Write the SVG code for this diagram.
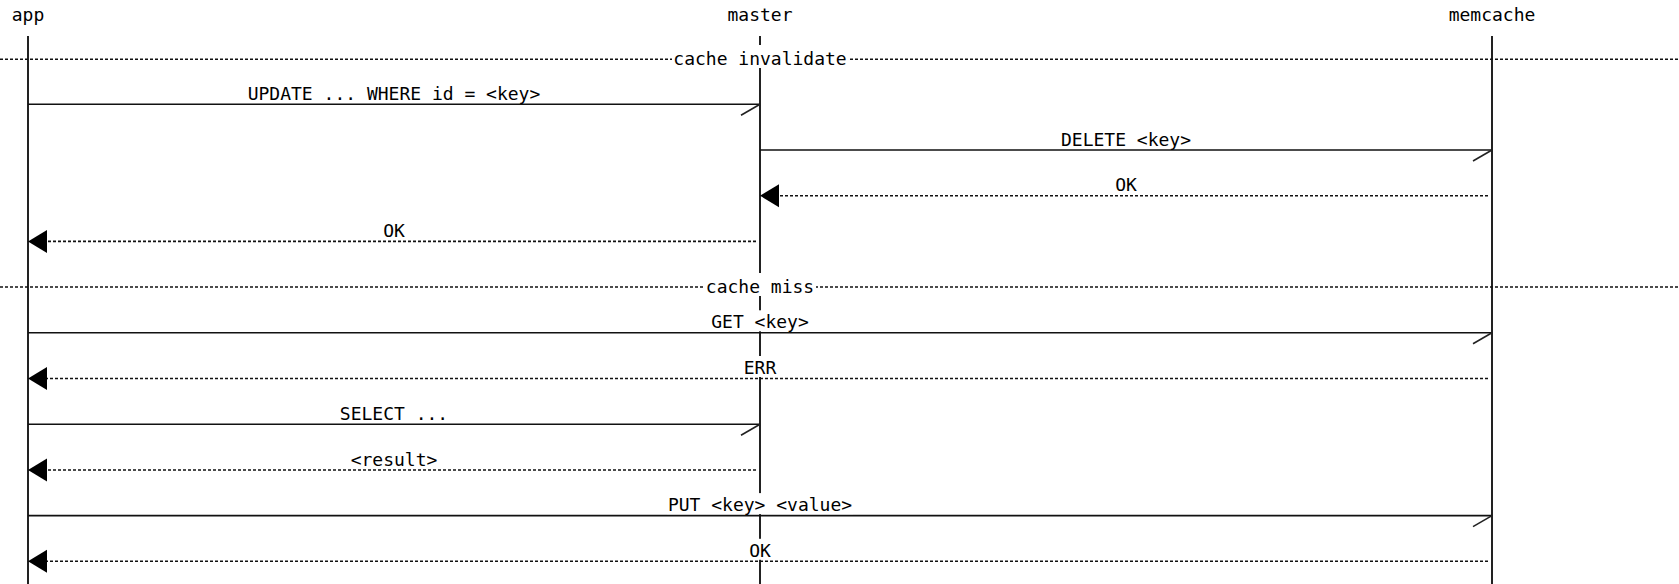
<svg xmlns="http://www.w3.org/2000/svg" width="1679" height="584" viewBox="0 0 1679 584">
<style>
  text { font-family: "DejaVu Sans Mono", "Liberation Mono", monospace; font-size: 18px; fill: #000; text-anchor: middle; }
  .life { stroke: #222; stroke-width: 2; fill: none; }
  .msg { stroke: #111; stroke-width: 1.6; fill: none; }
  .ret { stroke: #111; stroke-width: 1.6; fill: none; stroke-dasharray: 3 2; }
  .sep { stroke: #111; stroke-width: 1.4; fill: none; stroke-dasharray: 3 2; }
  .half { stroke: #222; stroke-width: 1.6; fill: none; }
  .tri { fill: #000; stroke: none; }
  .bg { fill: #fff; stroke: none; }
</style>
<rect width="1679" height="584" fill="#fff"/>

<g id="app">
  <text x="28" y="20.5">app</text>
  <line class="life" x1="28" y1="36" x2="28" y2="584"/>
</g>
<g id="master">
  <text x="760" y="20.5">master</text>
  <line class="life" x1="760" y1="36" x2="760" y2="584"/>
</g>
<g id="memcache">
  <text x="1492" y="20.5">memcache</text>
  <line class="life" x1="1492" y1="36" x2="1492" y2="584"/>
</g>

<g id="sep-cache-invalidate">
  <line class="sep" x1="0" y1="59.3" x2="1679" y2="59.3"/>
  <rect class="bg" x="672" y="45" width="176" height="23"/>
  <text x="760" y="65">cache invalidate</text>
</g>
<g id="sep-cache-miss">
  <line class="sep" x1="0" y1="287" x2="1679" y2="287"/>
  <rect class="bg" x="704" y="273" width="112" height="23"/>
  <text x="760" y="292.7">cache miss</text>
</g>

<g id="connectors">
  <!-- 1 UPDATE app -> master -->
  <line class="msg" x1="28" y1="104.3" x2="760" y2="104.3"/>
  <line class="half" x1="760" y1="104.3" x2="741" y2="115.3"/>
  <rect class="bg" x="247" y="81.8" width="294" height="21"/>
  <text x="394" y="99.8">UPDATE ... WHERE id = &lt;key&gt;</text>

  <!-- 2 DELETE master -> memcache -->
  <line class="msg" x1="760" y1="150" x2="1492" y2="150"/>
  <line class="half" x1="1492" y1="150" x2="1473" y2="161"/>
  <rect class="bg" x="1060" y="127.5" width="132" height="21"/>
  <text x="1126" y="145.5">DELETE &lt;key&gt;</text>

  <!-- 3 OK memcache -> master -->
  <line class="ret" x1="1488" y1="195.7" x2="779" y2="195.7"/>
  <polygon class="tri" points="760,195.7 779,184.2 779,207.2"/>
  <rect class="bg" x="1114" y="173.2" width="24" height="21"/>
  <text x="1126" y="191.2">OK</text>

  <!-- 4 OK master -> app -->
  <line class="ret" x1="756" y1="241.4" x2="47" y2="241.4"/>
  <polygon class="tri" points="28,241.4 47,229.9 47,252.9"/>
  <rect class="bg" x="382" y="218.9" width="24" height="21"/>
  <text x="394" y="236.9">OK</text>

  <!-- 5 GET app -> memcache -->
  <line class="msg" x1="28" y1="332.8" x2="1492" y2="332.8"/>
  <line class="half" x1="1492" y1="332.8" x2="1473" y2="343.8"/>
  <rect class="bg" x="710" y="310.3" width="100" height="21"/>
  <text x="760" y="328.3">GET &lt;key&gt;</text>

  <!-- 6 ERR memcache -> app -->
  <line class="ret" x1="1488" y1="378.5" x2="47" y2="378.5"/>
  <polygon class="tri" points="28,378.5 47,367 47,390"/>
  <rect class="bg" x="743" y="356" width="34" height="21"/>
  <text x="760" y="374">ERR</text>

  <!-- 7 SELECT app -> master -->
  <line class="msg" x1="28" y1="424.2" x2="760" y2="424.2"/>
  <line class="half" x1="760" y1="424.2" x2="741" y2="435.2"/>
  <rect class="bg" x="339" y="401.7" width="110" height="21"/>
  <text x="394" y="419.7">SELECT ...</text>

  <!-- 8 result master -> app -->
  <line class="ret" x1="756" y1="470" x2="47" y2="470"/>
  <polygon class="tri" points="28,470 47,458.5 47,481.5"/>
  <rect class="bg" x="350" y="447.5" width="88" height="21"/>
  <text x="394" y="465.5">&lt;result&gt;</text>

  <!-- 9 PUT app -> memcache -->
  <line class="msg" x1="28" y1="515.6" x2="1492" y2="515.6"/>
  <line class="half" x1="1492" y1="515.6" x2="1473" y2="526.6"/>
  <rect class="bg" x="667" y="493.1" width="186" height="21"/>
  <text x="760" y="511.1">PUT &lt;key&gt; &lt;value&gt;</text>

  <!-- 10 OK memcache -> app -->
  <line class="ret" x1="1488" y1="561.3" x2="47" y2="561.3"/>
  <polygon class="tri" points="28,561.3 47,549.8 47,572.8"/>
  <rect class="bg" x="748" y="538.8" width="24" height="21"/>
  <text x="760" y="556.8">OK</text>
</g>
</svg>
